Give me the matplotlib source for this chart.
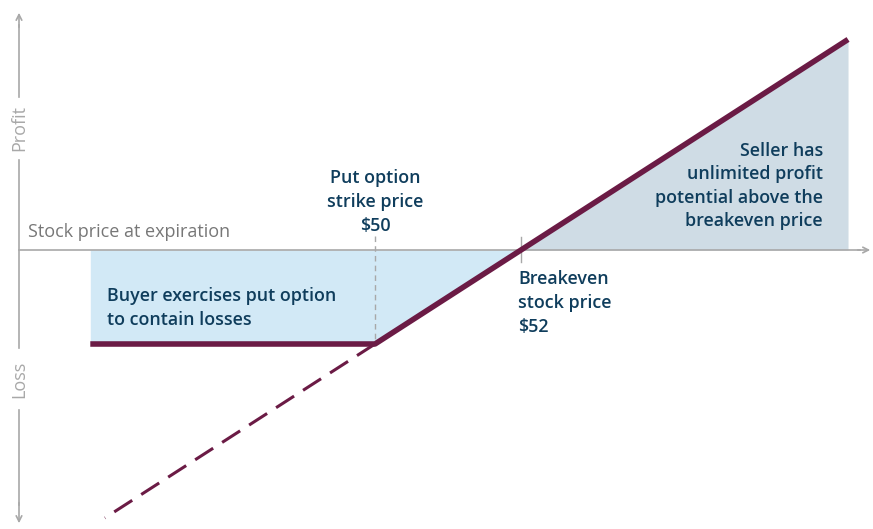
import numpy as np
import matplotlib
matplotlib.use('Agg')
import matplotlib.pyplot as plt

# ---- data (stock price in $, profit/loss in $) ----
strike = 50.0
premium = 2.0
breakeven = strike + premium
price_start = 46.1      # left end of flat loss line
price_end = 56.48       # right end of payoff line
dash_end = 46.3         # left end of unhedged (dashed) line

payoff_x = [price_start, strike, price_end]
payoff_y = [-premium, -premium, price_end - breakeven]
dash_x = [strike, dash_end]
dash_y = [-premium, dash_end - breakeven]

maroon = '#6b1b45'
navy = '#0f3d5c'
grey = '#a8a8a8'

# 73 px per dollar horizontally, 47 px per unit vertically
fig = plt.figure(figsize=(8.73, 5.29), dpi=100)
ax = fig.add_axes([0, 0, 1, 1])
ax.set_xlim(strike - 375 / 73, strike + 498 / 73)
ax.set_ylim(-279 / 47, 250 / 47)
ax.axis('off')

def px(x, y):
    return strike + (x - 375) / 73, (250 - y) / 47

# shaded regions
xb = np.array([price_start, strike, breakeven])
ax.fill_between(xb, [-premium, -premium, 0], 0, color='#d2e9f6', lw=0)
xs = np.array([breakeven, price_end])
ax.fill_between(xs, 0, xs - breakeven, color='#cfdce5', lw=0)

# axes lines
x0, _ = px(19, 0)
_, ytop = px(0, 10)
_, ybot = px(0, 526)
ax.plot([x0, px(860, 0)[0]], [0, 0], color=grey, lw=1.2)
ax.annotate('', xy=(px(873, 0)[0], 0), xytext=(px(855, 0)[0], 0),
            arrowprops=dict(arrowstyle='->', color=grey, lw=1.2))
ax.plot([x0, x0], [px(0, 97)[1], px(0, 25)[1]], color=grey, lw=1.2)
ax.annotate('', xy=(x0, ytop), xytext=(x0, px(0, 30)[1]),
            arrowprops=dict(arrowstyle='->', color=grey, lw=1.2))
ax.plot([x0, x0], [px(0, 160)[1], px(0, 348)[1]], color=grey, lw=1.2)
ax.plot([x0, x0], [px(0, 410)[1], px(0, 505)[1]], color=grey, lw=1.2)
ax.annotate('', xy=(x0, ybot), xytext=(x0, px(0, 500)[1]),
            arrowprops=dict(arrowstyle='->', color=grey, lw=1.2))

# strike and breakeven markers
ax.plot([strike, strike], [px(0, 236)[1], -premium], color=grey, lw=1, ls=(0, (4, 3)))
ax.plot([breakeven, breakeven], [px(0, 237)[1], px(0, 262)[1]], color=grey, lw=1)

# payoff lines
ax.plot(dash_x, dash_y, color=maroon, lw=2.2, ls=(0, (7, 3.5)), solid_capstyle='butt')
ax.plot(payoff_x, payoff_y, color=maroon, lw=4, solid_capstyle='butt')

fam = ['Open Sans', 'DejaVu Sans']
ax.text(*px(19, 128), 'Profit', rotation=90, ha='center', va='center',
        color=grey, fontsize=13, family=fam)
ax.text(*px(19, 379), 'Loss', rotation=90, ha='center', va='center',
        color=grey, fontsize=13, family=fam)
ax.text(*px(28, 232), 'Stock price at expiration', ha='left', va='center',
        color='#777777', fontsize=13, family=fam)

bold = dict(color=navy, fontsize=12.9, fontweight='semibold', family=fam, linespacing=1.4)
ax.text(*px(375, 202), 'Put option\nstrike price\n$50', ha='center', va='center', **bold)
ax.text(*px(518, 303), 'Breakeven\nstock price\n$52', ha='left', va='center', **bold)
ax.text(*px(823, 186), 'Seller has\nunlimited profit\npotential above the\nbreakeven price',
        ha='right', va='center', multialignment='right', **bold)
ax.text(*px(107, 308), 'Buyer exercises put option\nto contain losses', ha='left',
        va='center', **bold)

fig.savefig('out.png', dpi=100, facecolor='white')
